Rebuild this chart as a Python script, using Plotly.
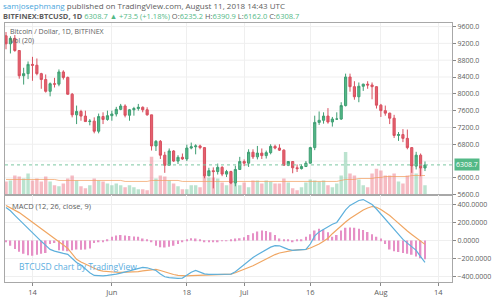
import pandas as pd
import plotly.graph_objects as go

# ---------------- data ----------------
dates = pd.date_range("2018-05-08", "2018-08-11", freq="D")

open_ = [9380, 9190, 9320, 9030, 8430, 8480, 8700, 8680, 8480, 8340, 8060, 8240, 8230, 8520, 8390, 7990,
         7500, 7580, 7470, 7340, 7350, 7110, 7460, 7390,
         7480, 7520, 7630, 7710, 7490, 7620, 7650, 7680, 7620, 7500, 6760, 6870, 6540, 6300, 6640, 6400,
         6490, 6450, 6710, 6740, 6760, 6720, 6050, 6170, 6150, 6250, 6090, 6150, 5880, 6200,
         6390, 6350, 6610, 6500, 6590, 6530, 6600, 6750, 6710, 6660, 6300, 6390, 6240, 6220, 6270, 6350,
         6720, 7320, 7370, 7470, 7330, 7400, 7400, 7720, 8400, 8170, 7930, 8180, 8230, 8210, 8170,
         7730, 7600, 7540, 7420, 7010, 7030, 6940, 6720, 6280, 6540, 6235.2]
high = [9470, 9370, 9400, 9040, 8620, 8770, 8880, 8840, 8500, 8460, 8270, 8380, 8580, 8560, 8410, 8020,
        7720, 7620, 7600, 7400, 7440, 7530, 7560, 7600,
        7600, 7690, 7760, 7750, 7640, 7690, 7760, 7700, 7680, 7500, 6900, 6900, 6620, 6700, 6660, 6540,
        6580, 6790, 6840, 6800, 6790, 6730, 6240, 6250, 6340, 6280, 6190, 6170, 6290, 6500,
        6440, 6680, 6680, 6760, 6700, 6650, 6800, 6790, 6800, 6680, 6400, 6400, 6320, 6320, 6400, 6740,
        7480, 7580, 7560, 7660, 7450, 7560, 7800, 8480, 8480, 8300, 8270, 8240, 8300, 8270, 8180,
        7760, 7720, 7550, 7500, 7090, 7160, 7150, 6730, 6620, 6580, 6390.9]
low = [9060, 8960, 9000, 8360, 8220, 8350, 8310, 8440, 8120, 8030, 7940, 8150, 8180, 8340, 7980, 7440,
       7280, 7360, 7340, 7250, 7060, 7060, 7280, 7360,
       7360, 7460, 7610, 7440, 7360, 7480, 7600, 7560, 7480, 6650, 6640, 6450, 6120, 6300, 6380, 6330,
       6430, 6400, 6680, 6560, 6680, 5990, 6040, 5750, 6080, 6040, 6020, 5850, 5800, 6200,
       6280, 6260, 6450, 6440, 6450, 6460, 6560, 6680, 6640, 6290, 6280, 6110, 6140, 6200, 6260, 6340,
       6660, 7260, 7290, 7290, 7220, 7380, 7380, 7700, 8050, 7860, 7800, 8070, 8120, 7870, 7650,
       7450, 7480, 7280, 6950, 6880, 6850, 6680, 6120, 6200, 6040, 6162.0]
close = [9190, 9320, 9030, 8430, 8480, 8700, 8680, 8480, 8340, 8060, 8240, 8230, 8520, 8390, 7990, 7500,
         7580, 7470, 7340, 7350, 7110, 7460, 7390, 7480,
         7520, 7630, 7710, 7490, 7620, 7650, 7680, 7620, 7500, 6760, 6870, 6540, 6300, 6640, 6400, 6490,
         6450, 6710, 6740, 6760, 6720, 6050, 6170, 6150, 6250, 6090, 6150, 5880, 6200, 6390,
         6350, 6610, 6500, 6590, 6530, 6600, 6750, 6710, 6660, 6300, 6390, 6240, 6220, 6270, 6350, 6720,
         7320, 7370, 7470, 7330, 7400, 7400, 7720, 8400, 8170, 7930, 8180, 8230, 8210, 8170, 7730,
         7600, 7540, 7420, 7010, 7030, 6940, 6720, 6280, 6540, 6235.2, 6308.7]

volume_k = [14, 15, 20, 19, 17, 22, 15, 17, 14, 19, 14, 10, 9, 12, 17, 20, 15, 9, 7, 10, 17, 15, 14, 12,
            10, 12, 10, 8, 10, 8, 6, 6, 5, 39, 17, 20, 19, 15, 12, 9, 6, 6, 10, 10, 8, 20, 18, 18, 17, 13,
            10, 17, 13, 10,
            13, 8, 15, 15, 12, 15, 14, 12, 12, 17, 13, 7, 5, 8, 13, 16, 15, 14, 15, 10, 8, 12, 20, 44, 22,
            20, 16, 10, 8, 22, 27,
            25, 20, 20, 22, 14, 12, 20, 29, 22, 28, 10]
volume_ma = [16, 16, 16, 16, 16, 16, 16, 16, 16, 16, 16, 16, 15, 15, 15, 15, 15, 15, 15, 15, 15, 15, 15, 15,
             15, 15, 15, 14, 14, 14, 14, 14, 14, 15, 15, 15, 15, 15, 15, 15, 14, 14, 14, 14, 14, 14, 14, 14,
             14, 14, 14, 14, 14, 14,
             14, 14, 14, 14, 14, 14, 14, 14, 14, 14, 14, 14, 14, 14, 14, 14, 14, 14, 14, 14, 14, 14, 15, 16,
             16, 16, 17, 17, 17, 17, 18,
             18, 19, 19, 19, 19, 19, 19, 20, 20, 20, 20]

macd_line = [367, 330, 280, 230, 185, 140, 90, 40, -10, -55,
             -100, -120, -135, -145, -155, -200, -245, -275, -320, -360,
             -390, -395, -395, -390, -385, -375, -365, -355, -340, -325,
             -310, -300, -305, -320, -335, -375, -405, -415, -420, -422,
             -420, -390, -355, -335, -350, -372, -378, -376, -375, -375,
             -374, -375, -350, -310, -275, -225, -190, -160, -130, -100,
             -75, -58, -60, -80, -100, -110, -108, -104, -100, -40,
             50, 95, 125, 155, 180, 200, 270, 340, 390, 420,
             445, 455, 430, 400, 350, 295, 235, 178, 120, 65,
             11, -30, -70, -110, -180, -245]
signal_line = [390, 365, 340, 310, 275, 240, 205, 165, 130, 90,
               55, 20, -15, -50, -90, -150, -210, -240, -265, -290,
               -315, -333, -342, -348, -352, -355, -356, -356, -355, -355,
               -348, -340, -332, -325, -322, -335, -352, -368, -380, -390,
               -395, -395, -392, -390, -390, -388, -386, -384, -382, -380,
               -378, -375, -360, -342, -322, -305, -282, -258, -232, -205,
               -180, -158, -140, -128, -118, -110, -106, -103, -100, -85,
               -65, -40, -10, 25, 75, 122, 165, 205, 245, 280,
               311, 340, 362, 378, 370, 345, 310, 278, 235, 190,
               145, 105, 67, 30, -5, -44]
macd_hist = [-20, -60, -95, -125, -150, -165, -170, -160, -150, -140,
             -40, -30, -110, -115, -120, -110, -100, -105, -100, -90,
             -30, -20, -15, 10, 40, 55, 60, 55, 50, 45,
             40, 20, 10, -20, -60, -75, -80, -70, -60, -40,
             -15, 10, 25, 20, 10, -10, -12, -15, -10, -8,
             -5, 10, 20, 25, 35, 60, 80, 100, 110, 105,
             90, 60, 20, 10, 5, -10, 5, 10, 40, 70,
             110, 130, 120, 90, 40, 60, 110, 140, 145, 140,
             130, 115, 95, 70, 40, 20, -40, -100, -120, -130,
             -140, -150, -160, -180, -200, -210]

tick_dates = ["2018-05-14", "2018-06-01", "2018-06-18", "2018-07-01", "2018-07-16", "2018-08-01", "2018-08-14"]
tick_text = ["14", "Jun", "18", "Jul", "16", "Aug", "14"]
# price-axis labels (6400 sits under the last-price tag in the reference)
price_ticks = [5600, 6000, 6800, 7200, 7600, 8000, 8400, 8800, 9200, 9600]
price_grid = [5600, 6000, 6400, 6800, 7200, 7600, 8000, 8400, 8800, 9200, 9600]

# ---------------- styling ----------------
UP = "#53b987"
DOWN = "#e4606f"
UP_VOL = "rgba(120,200,160,0.5)"
DOWN_VOL = "rgba(238,120,135,0.5)"
GRID = "#efefef"
FRAME = "#a8a8a8"
TXT = "#5d5d5d"
FONT = "Open Sans"
DAY_MS = 86400000

vol_colors = [UP_VOL if c >= o else DOWN_VOL for o, c in zip(open_, close)]

fig = go.Figure()

fig.add_trace(go.Bar(x=dates, y=volume_k, marker=dict(color=vol_colors, line=dict(width=0)),
                     width=0.78 * DAY_MS, xaxis="x", yaxis="y", hoverinfo="skip"))
fig.add_trace(go.Scatter(x=dates, y=volume_ma, mode="lines",
                         line=dict(color="rgba(242,160,100,0.75)", width=1), xaxis="x", yaxis="y"))
fig.add_trace(go.Candlestick(x=dates, open=open_, high=high, low=low, close=close,
                             increasing=dict(line=dict(color="#3f9e73", width=1), fillcolor=UP),
                             decreasing=dict(line=dict(color="#d8505f", width=1), fillcolor=DOWN),
                             whiskerwidth=0, xaxis="x", yaxis="y3"))

fig.add_trace(go.Bar(x=dates, y=macd_hist, marker=dict(color="#e690c6", line=dict(width=0)),
                     width=0.36 * DAY_MS, xaxis="x2", yaxis="y2"))
fig.add_trace(go.Scatter(x=dates, y=signal_line, mode="lines",
                         line=dict(color="#f0a662", width=1.2), xaxis="x2", yaxis="y2"))
fig.add_trace(go.Scatter(x=dates, y=macd_line, mode="lines",
                         line=dict(color="#5eb0dc", width=1.2), xaxis="x2", yaxis="y2"))

x_range = ["2018-05-07 18:30", "2018-08-17 03:00"]
x_dom = [0.01, 0.904]
main_dom = [0.3417, 0.9267]
macd_dom = [0.0467, 0.3417]

fig.update_layout(
    width=500, height=300,
    margin=dict(l=0, r=0, t=0, b=0),
    paper_bgcolor="white", plot_bgcolor="white",
    showlegend=False,
    font=dict(family=FONT, size=7, color=TXT),
    xaxis=dict(domain=x_dom, range=x_range, type="date", anchor="y",
               showticklabels=False, tickvals=tick_dates, showgrid=True, gridcolor=GRID,
               showline=True, linecolor=FRAME, linewidth=1, mirror=True, ticks="",
               rangeslider=dict(visible=False), matches="x2"),
    yaxis=dict(domain=main_dom, range=[0, 175.5], visible=False, showgrid=False),
    yaxis3=dict(domain=main_dom, range=[5588, 9694], overlaying="y", anchor="x", side="right",
                tickvals=price_ticks, tickformat=".1f",
                showgrid=False, zeroline=False,
                showline=True, linecolor=FRAME, linewidth=1, mirror=True,
                ticks="outside", ticklen=3, tickcolor="#888", tickfont=dict(size=7, color=TXT)),
    xaxis2=dict(domain=x_dom, range=x_range, type="date", anchor="y2",
                tickvals=tick_dates, ticktext=tick_text, tickfont=dict(size=7.5, color=TXT),
                showgrid=True, gridcolor=GRID,
                showline=True, linecolor=FRAME, linewidth=1, mirror=True,
                ticks="outside", ticklen=3, tickcolor="#888"),
    yaxis2=dict(domain=macd_dom, range=[-466, 504], anchor="x2", side="right",
                tickmode="linear", tick0=0, dtick=200, tickformat=".4f",
                showgrid=True, gridcolor=GRID, zeroline=False,
                showline=True, linecolor=FRAME, linewidth=1, mirror=True,
                ticks="outside", ticklen=3, tickcolor="#888", tickfont=dict(size=7, color=TXT)),
)

# horizontal price grid (below traces)
for p in price_grid:
    fig.add_shape(type="line", xref="paper", yref="y3", x0=x_dom[0], x1=x_dom[1], y0=p, y1=p,
                  line=dict(color=GRID, width=1), layer="below")

# last-price line and label
fig.add_shape(type="line", xref="paper", yref="y3", x0=x_dom[0], x1=x_dom[1],
              y0=close[-1], y1=close[-1], line=dict(color="#7cc7a2", width=1, dash="dot"))
fig.add_annotation(xref="paper", yref="y3", x=0.907, y=close[-1], text=f"{close[-1]:.1f}",
                   showarrow=False, xanchor="left", yanchor="middle", bgcolor=UP,
                   font=dict(size=7, color="white"), borderpad=1)

# header and pane texts
def txt(px, py, text, size=8, color=TXT):
    fig.add_annotation(xref="paper", yref="paper", x=px / 500, y=1 - py / 300, text=text,
                       showarrow=False, xanchor="left", yanchor="middle", align="left",
                       font=dict(size=size, color=color, family=FONT))

txt(1, 5, '<span style="color:#49a6dc">samjosephmang</span> published on TradingView.com, August 11, 2018 14:43 UTC', 8)
txt(1, 15, '<b>BITFINEX:BTCUSD, 1D</b> <span style="color:#53b987">6308.7 ▲ +73.5 (+1.18%)</span> '
           'O:<span style="color:#53b987">6235.2</span> H:<span style="color:#53b987">6390.9</span> '
           'L:<span style="color:#53b987">6162.0</span> C:<span style="color:#53b987">6308.7</span>', 7.5)
txt(8, 31, "Bitcoin / Dollar, 1D, BITFINEX", 7)
txt(8, 40, "Vol (20)", 7)
txt(10, 208, "MACD (12, 26, close, 9)", 7.5)
txt(17, 270, "BTCUSD chart by TradingView", 8.5, "#5aaee0")

fig.write_html("out.html")
